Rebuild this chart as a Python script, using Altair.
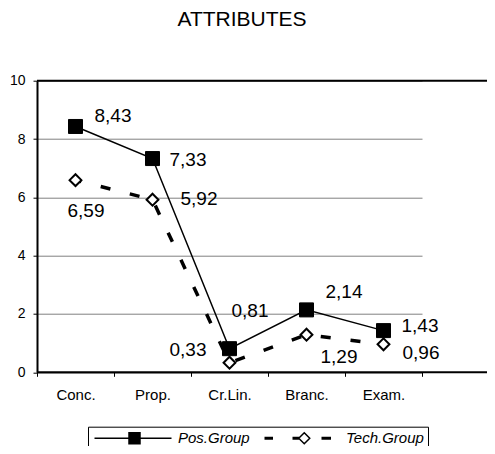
import altair as alt
import pandas as pd

# ---- data ----
categories = ["Conc.", "Prop.", "Cr.Lin.", "Branc.", "Exam."]
series_names = ["Pos.Group", "Tech.Group"]
pos_group = [8.43, 7.33, 0.81, 2.14, 1.43]
tech_group = [6.59, 5.92, 0.33, 1.29, 0.96]
y_ticks = [0, 2, 4, 6, 8, 10]
y_frame = [0, 10]

rows = []
for c, v in zip(categories, pos_group):
    rows.append({"cat": c, "series": series_names[0], "value": v})
for c, v in zip(categories, tech_group):
    rows.append({"cat": c, "series": series_names[1], "value": v})
df = pd.DataFrame(rows)
frame_df = pd.DataFrame({"v": y_frame})

# ---- style ----
FONT = "Liberation Sans"
label_offsets = {
    ("Pos.Group", "Conc."): (19, -10),
    ("Pos.Group", "Prop."): (17, 1),
    ("Pos.Group", "Cr.Lin."): (2, -38),
    ("Pos.Group", "Branc."): (19, -18),
    ("Pos.Group", "Exam."): (18, -5),
    ("Tech.Group", "Conc."): (-8, 31),
    ("Tech.Group", "Prop."): (28, -1),
    ("Tech.Group", "Cr.Lin."): (-60, -13),
    ("Tech.Group", "Branc."): (14, 22),
    ("Tech.Group", "Exam."): (19, 9),
}

pos_path = "M-1,0H14.4M5.9,-1.1H8.1V1.1H5.9Z"
tech_path = ("M-0.45,-0.15H0.95V0.15H-0.45Z"
             "M5.15,-0.15H6.25V0.15H5.15Z"
             "M7.35,-1.1L8.45,0L7.35,1.1L6.25,0Z"
             "M10.95,-0.15H12.55V0.15H10.95Z")

x_scale = alt.Scale(type="band", domain=categories, range=[0, 385],
                    paddingInner=0, paddingOuter=0)
y_scale = alt.Scale(domain=[0, 10], nice=False)

x_enc = alt.X("cat:N", scale=x_scale, bandPosition=0.5,
              axis=alt.Axis(title=None, tickBand="extent", domain=False,
                            tickSize=4, tickColor="black", tickWidth=1,
                            labelFontSize=15, labelFont=FONT, labelColor="black",
                            labelPadding=11.5, labelAngle=0, grid=False))
y_enc = alt.Y("value:Q", scale=y_scale,
              axis=alt.Axis(title=None, values=y_ticks, tickSize=4,
                            tickColor="black", domainColor="black",
                            domainWidth=2, labelFontSize=14, labelFont=FONT,
                            labelColor="black", labelPadding=8,
                            gridColor="#808080", gridWidth=1))

base = alt.Chart(df)

frame = alt.Chart(frame_df).mark_rule(color="black", strokeWidth=2).encode(
    y=alt.Y("v:Q", scale=y_scale))

tech_line = base.transform_filter(alt.datum.series == series_names[1]).mark_line(
    color="black", strokeWidth=3.5, strokeDash=[10, 20], strokeDashOffset=4
).encode(x=x_enc, y=y_enc)

pos_line = base.transform_filter(alt.datum.series == series_names[0]).mark_line(
    color="black", strokeWidth=1.5
).encode(x=x_enc, y=y_enc)

tech_pts = base.transform_filter(alt.datum.series == series_names[1]).mark_point(
    shape="diamond", filled=True, fill="white", stroke="black",
    strokeWidth=2, size=140, opacity=1
).encode(x=x_enc, y=y_enc)

pos_pts = base.transform_filter(alt.datum.series == series_names[0]).mark_point(
    shape="square", filled=True, fill="black", stroke="black",
    strokeWidth=1, size=196, opacity=1
).encode(x=x_enc, y=y_enc)

legend = alt.Legend(title=None, orient="none", legendX=51, legendY=346,
                    direction="horizontal", strokeColor="black", fillColor="white",
                    padding=4, symbolSize=100, symbolStrokeWidth=1.5,
                    symbolStrokeColor="black", symbolOpacity=1,
                    labelFont=FONT, labelFontSize=15, labelFontStyle="italic",
                    labelColor="black", labelOffset=71, columnPadding=10)

legend_layer = base.transform_filter("false").mark_point(
    filled=True, strokeWidth=1.5
).encode(
    shape=alt.Shape("series:N", scale=alt.Scale(domain=series_names,
                                                 range=[pos_path, tech_path]),
                    legend=legend),
    fill=alt.Fill("series:N", scale=alt.Scale(domain=series_names,
                                               range=["black", "white"]),
                  legend=legend),
    stroke=alt.Stroke("series:N", scale=alt.Scale(domain=series_names,
                                                   range=["black", "black"]),
                      legend=legend),
)

labels = []
for (s, c), (dx, dy) in label_offsets.items():
    labels.append(
        base.transform_filter((alt.datum.series == s) & (alt.datum.cat == c))
        .transform_calculate(txt="replace(format(datum.value, '.2f'), '.', ',')")
        .mark_text(align="left", baseline="middle", dx=dx, dy=dy,
                   fontSize=19, font=FONT, color="black")
        .encode(x=x_enc, y=y_enc, text="txt:N")
    )

chart = alt.layer(
    tech_line, pos_line, tech_pts, pos_pts, *labels, frame, legend_layer
).properties(
    width=450, height=291.6,
    title=alt.TitleParams("ATTRIBUTES", fontSize=21, fontWeight="normal",
                          font=FONT, color="black", anchor="middle", dx=-20,
                          baseline="alphabetic", offset=27),
    autosize=alt.AutoSizeParams(type="none"),
    padding={"left": 29, "top": 72.7, "right": 0, "bottom": 73.7},
    background="white",
).configure_view(strokeWidth=0)

chart.save("out.html", embed_options={"renderer": "svg", "actions": False})
